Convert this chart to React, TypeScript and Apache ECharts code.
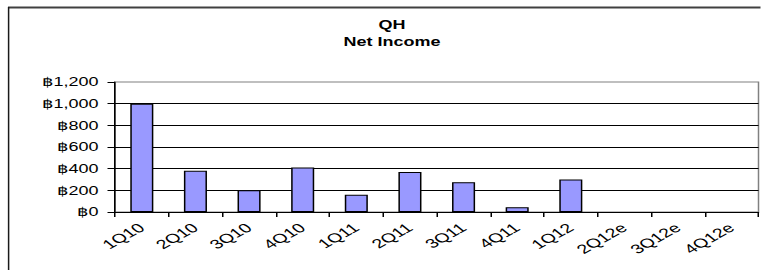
import React, { useEffect, useRef } from "react";
import * as echarts from "echarts";

const categories = ["1Q10", "2Q10", "3Q10", "4Q10", "1Q11", "2Q11", "3Q11", "4Q11", "1Q12", "2Q12e", "3Q12e", "4Q12e"];
const netIncome = [1000, 380, 200, 410, 160, 370, 275, 45, 300, null, null, null];
const titleLines = ["QH", "Net Income"];
const yMin = 0;
const yMax = 1200;
const yStep = 200;

const S = 1.5; // horizontal stretch of the reference picture
const W = 761;
const H = 270;
const FONT = "'Liberation Sans', Arial, sans-serif";

export default function App() {
  const ref = useRef<HTMLDivElement>(null);
  useEffect(() => {
    if (!ref.current) return;
    const chart = echarts.init(ref.current, undefined, { renderer: "svg" });
    chart.setOption({
      animation: false,
      backgroundColor: "#ffffff",
      textStyle: { fontFamily: FONT },
      grid: {
        left: 115 / S,
        right: (W - 759) / S,
        top: 82,
        bottom: H - 212,
        show: true,
        borderColor: "#808080",
        borderWidth: 1,
        backgroundColor: "transparent",
      },
      graphic: [
        {
          type: "line",
          shape: { x1: 8 / S, y1: 7.5, x2: W / S + 5, y2: 7.5 },
          style: { stroke: "#404040", lineWidth: 2 },
          silent: true,
        },
        {
          type: "line",
          shape: { x1: 8.6 / S, y1: 7, x2: 8.6 / S, y2: H + 5 },
          style: { stroke: "#1a1a1a", lineWidth: 1 },
          silent: true,
        },
        {
          type: "text",
          x: 392 / S,
          y: 16,
          style: {
            text: titleLines.join("\n"),
            fontFamily: FONT,
            fontWeight: "bold",
            fontSize: 12,
            lineHeight: 17,
            fill: "#000",
            textAlign: "center",
            textVerticalAlign: "top",
          },
        },
      ],
      xAxis: {
        type: "category",
        data: categories,
        boundaryGap: true,
        axisLine: { show: true, lineStyle: { color: "#000", width: 1 } },
        axisTick: { show: true, interval: 0, length: 5, inside: false, lineStyle: { color: "#000" } },
        axisLabel: {
          interval: 0,
          rotate: 40,
          margin: 14,
          color: "#000",
          fontSize: 13,
          fontFamily: FONT,
        },
        splitLine: { show: false },
      },
      yAxis: {
        type: "value",
        min: yMin,
        max: yMax,
        interval: yStep,
        axisLine: { show: true, lineStyle: { color: "#000", width: 1 } },
        axisTick: { show: true, length: 5, lineStyle: { color: "#000" } },
        axisLabel: {
          margin: 11,
          color: "#000",
          fontSize: 12,
          fontFamily: FONT,
          formatter: (v: number) => "฿" + v.toLocaleString("en-US"),
        },
        splitLine: { show: true, showMaxLine: false, lineStyle: { color: "#000", width: 1 } },
      },
      series: [
        {
          type: "bar",
          data: netIncome,
          barWidth: "43%",
          itemStyle: { color: "#9999FF", borderColor: "#000", borderWidth: 1 },
        },
      ],
    });
    return () => chart.dispose();
  }, []);
  return (
    <div style={{ position: "absolute", left: 0, top: 0, width: W, height: H, overflow: "hidden", background: "#fff" }}>
      <div
        ref={ref}
        style={{ width: W / S, height: H, transform: `scaleX(${S})`, transformOrigin: "0 0" }}
      />
    </div>
  );
}
